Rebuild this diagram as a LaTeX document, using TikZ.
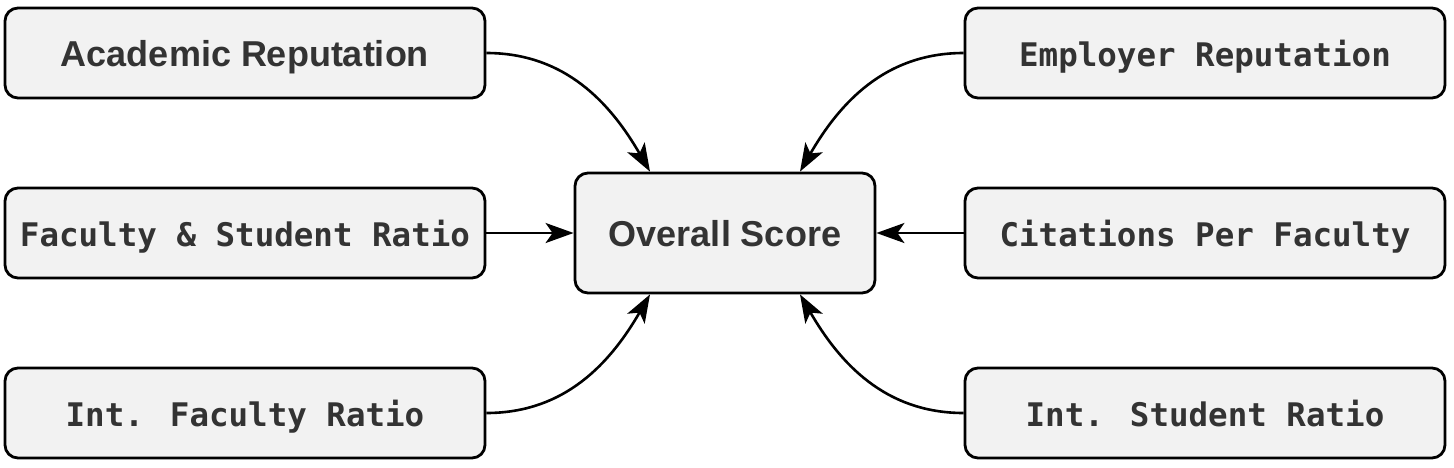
\documentclass[tikz,border=0pt]{standalone}
\usepackage{fontspec}
\setmainfont{Liberation Sans}
\newfontfamily\boxmono{DejaVu Sans Mono}
\usetikzlibrary{arrows.meta}
\definecolor{boxfill}{HTML}{F2F2F2}
\definecolor{boxtext}{HTML}{333333}
\tikzset{
    factor/.style={draw, line width=2.8pt, rounded corners=13pt, fill=boxfill,
        text=boxtext, minimum width=480pt, minimum height=90pt, inner sep=0pt,
        text height=27.7pt, text depth=0pt},
    sansbox/.style={font=\fontsize{36}{40}\selectfont\bfseries, text height=26.5pt},
    monobox/.style={font=\boxmono\fontsize{32.5}{38}\selectfont\bfseries},
    link/.style={line width=2.6pt, -{Stealth[length=28pt, width=20pt, inset=7pt]}}
}
\begin{document}
\begin{tikzpicture}[x=1pt, y=-1pt]
            \useasboundingbox (0,0) rectangle (1454,467);
            \node[factor, sansbox] (ar) at (245, 53) {Academic Reputation};
            \node[factor, monobox] (er) at (1205, 53) {Employer Reputation};
            \node[factor, monobox] (fsr) at (245, 233) {Faculty \& Student Ratio};
            \node[factor, monobox] (cpf) at (1205, 233) {Citations Per Faculty};
            \node[factor, monobox] (ifr) at (245, 413) {Int. Faculty Ratio};
            \node[factor, monobox] (isr) at (1205, 413) {Int. Student Ratio};
            \node[factor, sansbox, minimum width=300pt, minimum height=120pt] (os) at (725, 233) {Overall Score};
            \draw[link] (ar.east) to[out=0, in=120] (os.north -| 650,0);
            \draw[link] (er.west) to[out=180, in=60] (os.north -| 800,0);
            \draw[link] (fsr) -- (os);
            \draw[link] (cpf) -- (os);
            \draw[link] (ifr.east) to[out=0, in=240] (os.south -| 650,0);
            \draw[link] (isr.west) to[out=180, in=300] (os.south -| 800,0);
        \end{tikzpicture}
\end{document}
